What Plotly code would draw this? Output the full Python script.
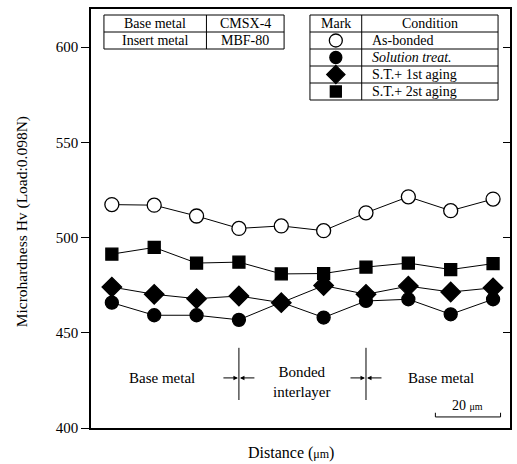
import plotly.graph_objects as go

# ---- data ----
distance_um = [0, 13, 26, 39, 52, 65, 78, 91, 104, 117]
as_bonded = [517.3, 517.0, 511.3, 504.8, 506.1, 503.6, 513.0, 521.4, 514.1, 520.2]
solution_treat = [465.8, 459.2, 459.2, 456.8, 466.0, 458.0, 466.7, 467.6, 459.7, 467.6]
st_1st_aging = [474.0, 470.2, 467.9, 469.3, 465.8, 474.8, 470.2, 474.5, 471.4, 473.6]
st_2nd_aging = [491.3, 494.8, 486.6, 487.1, 480.9, 481.1, 484.5, 486.6, 483.2, 486.3]
y_ticks = [400, 450, 500, 550, 600]
interfaces_um = [39, 78]
scale_bar_um = [99.3, 119.3]
conditions = ["As-bonded", "<i>Solution treat.</i>", "S.T.+ 1st aging", "S.T.+ 2st aging"]

W, H = 517, 464
L, R, T, B = 91, 5, 9, 36
PW, PH = W - L - R, H - T - B
X_RANGE = [-6.4, 122.2]
Y_RANGE = [400, 620]

FONT = "Liberation Serif, Times New Roman, serif"

def px(xp):
    return (xp - L) / PW

def py(yp):
    return (T + PH - yp) / PH

fig = go.Figure()

styles = {
    "As-bonded": ("circle", 14, "white"),
    "Solution treat.": ("circle", 13, "black"),
    "S.T.+ 1st aging": ("diamond", 15, "black"),
    "S.T.+ 2st aging": ("square", 12, "black"),
}
draw_order = [
    (st_2nd_aging, "S.T.+ 2st aging"),
    (as_bonded, "As-bonded"),
    (solution_treat, "Solution treat."),
    (st_1st_aging, "S.T.+ 1st aging"),
]
for vals, name in draw_order:
    sym, size, fill = styles[name]
    fig.add_trace(go.Scatter(
        x=distance_um, y=vals, mode="lines+markers", name=name,
        line=dict(color="black", width=1),
        marker=dict(symbol=sym, size=size, color=fill, line=dict(color="black", width=1.3)),
        showlegend=False, hoverinfo="skip",
    ))

shapes = []
annotations = []

def rect(x0, y0, x1, y1, w=1):
    shapes.append(dict(type="rect", xref="paper", yref="paper",
                       x0=px(x0), x1=px(x1), y0=py(y1), y1=py(y0),
                       line=dict(color="black", width=w), fillcolor="white", layer="below"))

def hline(x0, x1, y):
    shapes.append(dict(type="line", xref="paper", yref="paper",
                       x0=px(x0), x1=px(x1), y0=py(y), y1=py(y),
                       line=dict(color="black", width=1), layer="below"))

def vline(x, y0, y1):
    shapes.append(dict(type="line", xref="paper", yref="paper",
                       x0=px(x), x1=px(x), y0=py(y0), y1=py(y1),
                       line=dict(color="black", width=1), layer="below"))

def text(t, x, y, anchor="center", size=14, family=FONT):
    annotations.append(dict(text=t, xref="paper", yref="paper", x=px(x), y=py(y),
                            xanchor=anchor, yanchor="middle", showarrow=False,
                            font=dict(family=family, size=size, color="black")))

# Base/insert metal table
t1 = dict(x0=104, xs=207, x1=285, y0=15, ym=32, y1=49)
rect(t1["x0"], t1["y0"], t1["x1"], t1["y1"])
hline(t1["x0"], t1["x1"], t1["ym"])
vline(t1["xs"], t1["y0"], t1["y1"])
text("Base metal", (t1["x0"] + t1["xs"]) / 2, 23.5)
text("CMSX-4", (t1["xs"] + t1["x1"]) / 2, 23.5)
text("Insert metal", (t1["x0"] + t1["xs"]) / 2, 40.5)
text("MBF-80", (t1["xs"] + t1["x1"]) / 2, 40.5)

# Mark / Condition table
lx0, lxs, lx1 = 311, 363, 500
rows = [15, 32, 49, 66, 83, 100]
rect(lx0, rows[0], lx1, rows[-1])
for r in rows[1:-1]:
    hline(lx0, lx1, r)
vline(lxs, rows[0], rows[-1])
text("Mark", (lx0 + lxs) / 2, (rows[0] + rows[1]) / 2)
text("Condition", (lxs + lx1) / 2, (rows[0] + rows[1]) / 2)
sw_x, sw_y = [], []
for i, cond in enumerate(conditions):
    yc = (rows[i + 1] + rows[i + 2]) / 2
    text(cond, lxs + 8, yc, anchor="left")
    sw_y.append(py(yc))
    sw_x.append(px((lx0 + lxs) / 2))
# legend swatches drawn on a hidden 0..1 overlay so they use real marker shapes
for i, name in enumerate(styles):
    sym, size, fill = styles[name]
    fig.add_trace(go.Scatter(
        x=[sw_x[i]], y=[sw_y[i]], xaxis="x2", yaxis="y3", mode="markers",
        marker=dict(symbol=sym, size=size - 1, color=fill, line=dict(color="black", width=1.3)),
        showlegend=False, hoverinfo="skip", cliponaxis=False,
    ))

# interface markers (data coordinates)
for xi in interfaces_um:
    shapes.append(dict(type="line", xref="x", yref="y", x0=xi, x1=xi, y0=414.7, y1=442.1,
                       line=dict(color="black", width=1)))
    for ax in (-17, 17):
        annotations.append(dict(x=xi, y=426.3, xref="x", yref="y", ax=ax, ay=0,
                                showarrow=True, arrowhead=2, arrowsize=0.9, arrowwidth=1,
                                arrowcolor="black", text="", standoff=1))

text("Base metal", 162, 378, size=15)
text("Bonded<br>interlayer", 303, 382, size=15)
text("Base metal", 443, 378, size=15)

# scale bar
shapes.append(dict(type="line", xref="x", yref="y", x0=scale_bar_um[0], x1=scale_bar_um[1],
                   y0=405.8, y1=405.8, line=dict(color="black", width=1)))
for xs in scale_bar_um:
    shapes.append(dict(type="line", xref="x", yref="y", x0=xs, x1=xs, y0=405.8, y1=408.0,
                       line=dict(color="black", width=1)))
annotations.append(dict(x=(scale_bar_um[0] + scale_bar_um[1]) / 2, y=411.8, xref="x", yref="y",
                        text="20 <span style='font-size:10px'>μm</span>", showarrow=False,
                        yanchor="middle", font=dict(family=FONT, size=14, color="black")))

# axis titles
annotations.append(dict(text="Microhardness Hv (Load:0.098N)", xref="paper", yref="paper",
                        x=px(22), y=py(222), textangle=-90, showarrow=False,
                        xanchor="center", yanchor="middle",
                        font=dict(family=FONT, size=15.5, color="black")))
annotations.append(dict(text="Distance (<span style='font-size:12px'>μm</span>)", xref="paper", yref="paper",
                        x=px(292), y=py(453), showarrow=False, xanchor="center", yanchor="middle",
                        font=dict(family=FONT, size=16, color="black")))

# right-side inward ticks via an overlaying axis
fig.add_trace(go.Scatter(x=[None], y=[None], yaxis="y2", showlegend=False, hoverinfo="skip"))

fig.update_layout(
    width=W, height=H,
    margin=dict(l=L, r=R, t=T, b=B),
    paper_bgcolor="white", plot_bgcolor="white",
    showlegend=False,
    xaxis=dict(range=X_RANGE, showticklabels=False, ticks="", showgrid=False, zeroline=False,
               showline=True, linecolor="black", linewidth=1.5, mirror=True),
    yaxis=dict(range=Y_RANGE, tickvals=y_ticks, ticks="outside", ticklen=8, tickwidth=1,
               tickcolor="black", showgrid=False, zeroline=False, showline=True,
               linecolor="black", linewidth=1.5, mirror=True,
               tickfont=dict(family=FONT, size=15, color="black")),
    yaxis2=dict(range=Y_RANGE, tickvals=y_ticks, overlaying="y", side="right", ticks="inside",
                ticklen=7, tickwidth=1, tickcolor="black", showticklabels=False, showgrid=False,
                zeroline=False, showline=False),
    xaxis2=dict(range=[0, 1], overlaying="x", visible=False, fixedrange=True),
    yaxis3=dict(range=[0, 1], overlaying="y", visible=False, fixedrange=True),
    shapes=shapes, annotations=annotations,
)

fig.write_html("out.html")
